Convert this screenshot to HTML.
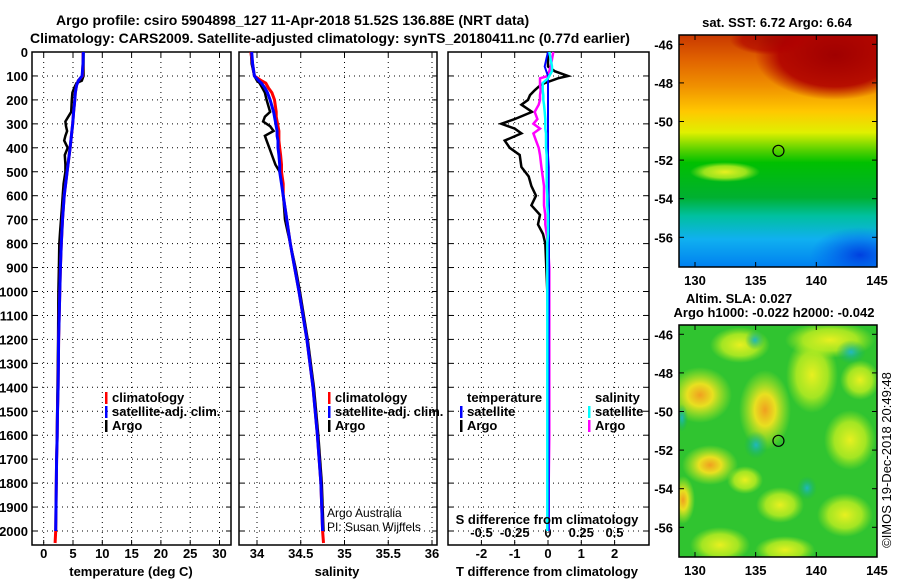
<!DOCTYPE html>
<html><head><meta charset="utf-8"><style>
body{margin:0;background:#fff;}
svg{display:block;font-family:"Liberation Sans",sans-serif;}
.b{font-weight:bold;font-size:13px;}
.t{font-weight:bold;font-size:14px;}
</style></head><body>
<svg id="c" width="900" height="580" viewBox="0 0 900 580">
<defs>
<linearGradient id="sst" x1="0" y1="0" x2="0" y2="1">
<stop offset="0" stop-color="#c83800"/><stop offset="0.1" stop-color="#e06000"/><stop offset="0.22" stop-color="#f09000"/>
<stop offset="0.33" stop-color="#ffc800"/><stop offset="0.42" stop-color="#e0f000"/><stop offset="0.5" stop-color="#50d000"/>
<stop offset="0.55" stop-color="#00c000"/><stop offset="0.7" stop-color="#00b030"/><stop offset="0.78" stop-color="#00c0a0"/>
<stop offset="0.88" stop-color="#10b0f0"/><stop offset="1" stop-color="#0080f0"/></linearGradient>
<radialGradient id="red1" cx="0.5" cy="0.5" r="0.5"><stop offset="0" stop-color="#a00000"/><stop offset="0.7" stop-color="#b00000" stop-opacity="0.9"/><stop offset="1" stop-color="#b00000" stop-opacity="0"/></radialGradient>
<radialGradient id="blu1" cx="0.5" cy="0.5" r="0.5"><stop offset="0" stop-color="#0040e0"/><stop offset="1" stop-color="#0060f0" stop-opacity="0"/></radialGradient>
<radialGradient id="yel" cx="0.5" cy="0.5" r="0.5"><stop offset="0" stop-color="#f0a020"/><stop offset="0.4" stop-color="#e8e020"/><stop offset="1" stop-color="#c8f020" stop-opacity="0"/></radialGradient>
<radialGradient id="yel2" cx="0.5" cy="0.5" r="0.5"><stop offset="0" stop-color="#e8f020"/><stop offset="0.6" stop-color="#c0ee20" stop-opacity="0.8"/><stop offset="1" stop-color="#a0e820" stop-opacity="0"/></radialGradient>
<radialGradient id="cy" cx="0.5" cy="0.5" r="0.5"><stop offset="0" stop-color="#20b8c0"/><stop offset="1" stop-color="#10b060" stop-opacity="0"/></radialGradient>
<clipPath id="m1c"><rect x="679" y="35" width="198" height="232"/></clipPath>
<clipPath id="m2c"><rect x="679" y="325" width="198" height="232"/></clipPath>
</defs>
<g id="titles">
<text class="t" x="56" y="25">Argo profile: csiro 5904898_127 11-Apr-2018 51.52S 136.88E (NRT data)</text>
<text class="t" x="30" y="43">Climatology: CARS2009. Satellite-adjusted climatology: synTS_20180411.nc (0.77d earlier)</text>
</g>
<g id="p1"></g>
<g id="p2"></g>
<g id="p3"></g>
<g id="maps"></g>
</svg>
<script>
// ---- data ----
const tDepth = [0,50,100,120,140,170,200,250,300,400,500,600,700,800,900,1000,1100,1200,1300,1400,1500,1600,1700,1800,1900,2000];
const tClim  = [6.7,6.7,6.6,5.9,5.6,5.4,5.3,5.1,4.95,4.5,4.0,3.5,3.2,3.0,2.85,2.75,2.65,2.55,2.5,2.45,2.35,2.3,2.2,2.15,2.1,2.05];
const tSat   = [6.75,6.7,6.55,5.9,5.6,5.4,5.3,5.1,4.95,4.5,4.0,3.5,3.2,3.0,2.85,2.75,2.65,2.55,2.5,2.45,2.35,2.3,2.2,2.15,2.1,2.05];
const aDepth = [0,50,100,120,130,150,170,200,250,270,290,310,330,350,370,400,430,470,500,550,600,650,700,750,800,900,1000,1200,1400,1600,1800,2000];
const tArgo  = [6.8,6.8,6.8,6.5,5.6,5.2,4.9,4.8,4.7,4.2,3.7,3.8,4.0,3.7,3.5,4.1,3.6,3.7,3.7,3.4,3.25,3.1,2.96,2.8,2.67,2.6,2.5,2.45,2.35,2.25,2.15,2.05];
const sClim  = [33.93,33.95,33.97,34.05,34.1,34.13,34.17,34.2,34.22,34.22,34.23,34.24,34.25,34.25,34.25,34.26,34.27,34.28,34.28,34.3,34.3,34.32,34.34,34.36,34.38,34.43,34.48,34.57,34.64,34.69,34.73,34.75];
const sSat   = [33.94,33.95,33.97,34.02,34.05,34.09,34.12,34.15,34.19,34.2,34.21,34.22,34.23,34.23,34.24,34.24,34.25,34.26,34.26,34.28,34.3,34.32,34.34,34.36,34.38,34.43,34.48,34.57,34.64,34.69,34.73,34.75];
const sArgo  = [33.93,33.94,33.97,34.0,34.03,34.06,34.09,34.11,34.15,34.09,34.07,34.15,34.19,34.09,34.11,34.14,34.17,34.21,34.26,34.3,34.3,34.31,34.32,34.35,34.38,34.44,34.49,34.58,34.65,34.7,34.74,34.76];
const dDepth = [0,30,60,80,100,110,130,140,160,180,200,220,250,280,300,320,340,370,400,430,480,520,560,600,640,680,720,760,800,900,1000,1200,1400,1600,1800,2000];
const dTArgo = [0,0,0,0.2,0.6,0.3,-0.1,-0.24,-0.4,-0.54,-0.6,-0.8,-0.48,-1.0,-1.4,-1.0,-0.8,-1.3,-1.15,-0.85,-0.8,-0.58,-0.5,-0.36,-0.5,-0.24,-0.3,-0.15,-0.08,-0.05,-0.02,0,0,0,0,0];
const dTSat  = [0,-0.05,-0.1,-0.05,0,0,0,0,0,0,0,0,0,0,0,0,0,0,0,0,0.02,0.02,0.02,0.02,0.03,0.03,0.03,0.03,0.03,0.03,0.03,0.02,0.02,0.02,0.02,0.02];
const dSArgo = [0.04,0.03,0.02,0.01,0.0,-0.06,-0.06,-0.06,-0.055,-0.06,-0.06,-0.07,-0.1,-0.08,-0.11,-0.06,-0.11,-0.09,-0.07,-0.06,-0.05,-0.04,-0.03,-0.03,-0.03,-0.02,-0.02,-0.01,0,0.01,0.01,0.01,0.01,0.01,0.005,0.005];
const dSSat  = [0.01,0.02,0.03,0.03,0.01,0.0,-0.04,-0.04,-0.04,-0.035,-0.035,-0.03,-0.025,-0.02,-0.02,-0.02,-0.015,-0.015,-0.015,-0.01,-0.01,-0.01,-0.01,-0.005,-0.005,0,0,0,-0.005,-0.005,-0.005,-0.005,-0.005,-0.005,-0.005,-0.005];
const depthTicks = [0,100,200,300,400,500,600,700,800,900,1000,1100,1200,1300,1400,1500,1600,1700,1800,1900,2000];
const tTicks = [0,5,10,15,20,25,30];
const sTicks = [34,34.5,35,35.5,36];
const dtTicks = [-2,-1,0,1,2];
const dsTicks = [-0.5,-0.25,0,0.25,0.5];
const dsLabels = ["-0.5","-0.25","0","0.25","0.5"];
const latTicks = [-46,-48,-50,-52,-54,-56];
const lonTicks = [130,135,140,145];
const floatLon = 136.88, floatLat = -51.52;

// ---- helpers ----
const NS="http://www.w3.org/2000/svg";
function mk(parent,tag,attrs,txt){const e=document.createElementNS(NS,tag);for(const k in attrs)e.setAttribute(k,attrs[k]);if(txt!==undefined)e.textContent=txt;parent.appendChild(e);return e;}
const Y = d => 52 + d*0.2395;
const TOP=52, BOT=545;
const xT = t => 43.7 + t*5.86;
const xS = s => 257 + (s-34)*87.5;
const xDT = v => 548 + v*33.3;
const xDS = v => 548 + v*133;
const lonX = l => 695 + (l-130)*12.13;
const latY1 = l => 44.3 + (-46-l)*19.3;
const latY2 = l => 334.3 + (-46-l)*19.3;

function frame(g,x0,x1,xticks,xf,labels){
  for(const d of depthTicks){
    if(d>0) mk(g,'line',{x1:x0,x2:x1,y1:Y(d),y2:Y(d),stroke:'#000','stroke-dasharray':'1 4','stroke-width':1});
    mk(g,'line',{x1:x0,x2:x0+5,y1:Y(d),y2:Y(d),stroke:'#000'});
    mk(g,'line',{x1:x1-5,x2:x1,y1:Y(d),y2:Y(d),stroke:'#000'});
  }
  xticks.forEach((v,i)=>{
    const x=xf(v);
    mk(g,'line',{x1:x,x2:x,y1:TOP,y2:BOT,stroke:'#000','stroke-dasharray':'1 4','stroke-width':1});
    mk(g,'line',{x1:x,x2:x,y1:BOT-5,y2:BOT,stroke:'#000'});
    mk(g,'line',{x1:x,x2:x,y1:TOP,y2:TOP+5,stroke:'#000'});
    if(labels){const tl=mk(g,'text',{x:x,y:558,'text-anchor':'middle',class:'b'},labels[i]);
    
    }
  });
  mk(g,'rect',{x:x0,y:TOP,width:x1-x0,height:BOT-TOP,fill:'none',stroke:'#000','stroke-width':1.5});
}
function line(g,xs,ds,xf,color,w,name){
  const pts=xs.map((v,i)=>xf(v).toFixed(1)+','+Y(ds[i]).toFixed(1)).join(' ');
  const p=mk(g,'polyline',{points:pts,fill:'none',stroke:color,'stroke-width':w,'stroke-linejoin':'miter'});
  
  
}
function legend(g,x,y,items){
  items.forEach((it,i)=>{
    mk(g,'rect',{x:x,y:y+i*14-10,width:2.5,height:12,fill:it[0]});
    const t=mk(g,'text',{x:x+7,y:y+i*14,class:'b'},it[1]);
    
    
  });
}

// ---- panel 1 ----
const p1=document.getElementById('p1');
frame(p1,32,231,tTicks,xT,tTicks.map(String));
for(const d of depthTicks){const t=mk(p1,'text',{x:28,y:Y(d)+5,'text-anchor':'end',class:'b'},String(d));

}
line(p1,tArgo,aDepth,xT,'#000',2.5,'argo-temperature-line');
line(p1,tClim.concat([1.95]),tDepth.concat([2050]),xT,'#f00',3,'climatology-temperature-line');
line(p1,tSat,tDepth,xT,'#00f',3,'satellite-temperature-line');
legend(p1,105,402,[['#f00','climatology'],['#00f','satellite-adj. clim.'],['#000','Argo']]);
mk(p1,'text',{x:131,y:576,'text-anchor':'middle',class:'b'},'temperature (deg C)');

// ---- panel 2 ----
const p2=document.getElementById('p2');
frame(p2,239,437,sTicks,xS,sTicks.map(String));
line(p2,sArgo,aDepth,xS,'#000',2.5,'argo-salinity-line');
line(p2,sClim.concat([34.76]),aDepth.concat([2050]),xS,'#f00',3,'climatology-salinity-line');
line(p2,sSat,aDepth,xS,'#00f',3,'satellite-salinity-line');
legend(p2,328,402,[['#f00','climatology'],['#00f','satellite-adj. clim.'],['#000','Argo']]);
mk(p2,'text',{x:327,y:517,'font-size':'12px'},'Argo Australia');
mk(p2,'text',{x:327,y:531,'font-size':'12px'},'PI: Susan Wijffels');
mk(p2,'text',{x:337,y:576,'text-anchor':'middle',class:'b'},'salinity');

// ---- panel 3 ----
const p3=document.getElementById('p3');
frame(p3,448,649,dtTicks,xDT,dtTicks.map(String));
dsTicks.forEach((v,i)=>{mk(p3,'text',{x:xDS(v),y:537,'text-anchor':'middle',class:'b'},dsLabels[i]);});
line(p3,dTArgo,dDepth,xDT,'#000',2.5,'argo-temperature-difference-line');
line(p3,dSArgo,dDepth,xDS,'#f0f',2.5,'argo-salinity-difference-line');
line(p3,dTSat,dDepth,xDT,'#00f',2,'satellite-temperature-difference-line');
line(p3,dSSat,dDepth,xDS,'#0ff',2.5,'satellite-salinity-difference-line');
mk(p3,'text',{x:467,y:402,class:'b'},'temperature');
legend(p3,460,416,[['#00f','satellite'],['#000','Argo']]);
mk(p3,'text',{x:595,y:402,class:'b'},'salinity');
legend(p3,588,416,[['#0ff','satellite'],['#f0f','Argo']]);
mk(p3,'text',{x:547,y:524,'text-anchor':'middle',class:'b'},'S difference from climatology');
mk(p3,'text',{x:547,y:576,'text-anchor':'middle',class:'b'},'T difference from climatology');

// ---- maps ----
const maps=document.getElementById('maps');
function mapFrame(g,y0,latY){
  mk(g,'rect',{x:679,y:y0,width:198,height:232,fill:'none',stroke:'#000','stroke-width':1.5});
  latTicks.forEach(l=>{const y=latY(l);
    mk(g,'line',{x1:679,x2:684,y1:y,y2:y,stroke:'#000'});mk(g,'line',{x1:872,x2:877,y1:y,y2:y,stroke:'#000'});
    const t=mk(g,'text',{x:673,y:y+5,'text-anchor':'end',class:'b'},String(l));
    
    });
  lonTicks.forEach(l=>{const x=lonX(l);
    mk(g,'line',{x1:x,x2:x,y1:y0,y2:y0+5,stroke:'#000'});mk(g,'line',{x1:x,x2:x,y1:y0+232-5,y2:y0+232,stroke:'#000'});
    const t=mk(g,'text',{x:x,y:y0+250,'text-anchor':'middle',class:'b'},String(l));
    
    });
  const c=mk(g,'circle',{cx:lonX(floatLon),cy:latY(floatLat),r:5.5,fill:'none',stroke:'#000','stroke-width':1.2});
  
  
}
const m1=mk(maps,'g',{'clip-path':'url(#m1c)'});


mk(m1,'rect',{x:679,y:35,width:198,height:232,fill:'url(#sst)'});
mk(m1,'ellipse',{cx:835,cy:55,rx:80,ry:45,fill:'url(#red1)'});
mk(m1,'ellipse',{cx:770,cy:40,rx:40,ry:15,fill:'url(#red1)',opacity:0.7});
mk(m1,'ellipse',{cx:860,cy:255,rx:50,ry:28,fill:'url(#blu1)'});
mk(m1,'ellipse',{cx:725,cy:172,rx:35,ry:10,fill:'url(#yel2)'});
mapFrame(maps,35,latY1);
mk(maps,'text',{x:777,y:27,'text-anchor':'middle',class:'b'},'sat. SST: 6.72 Argo: 6.64');
const m2=mk(maps,'g',{'clip-path':'url(#m2c)'});


mk(m2,'rect',{x:679,y:325,width:198,height:232,fill:'#30c430'});
[[700,395,32,28,'yel'],[765,410,26,40,'yel'],[812,375,26,38,'yel2'],[710,465,28,20,'yel'],[780,505,24,18,'yel2'],[850,440,26,30,'yel2'],[830,340,45,18,'yel2'],[740,345,30,18,'yel2'],[720,545,30,18,'yel2'],[785,550,30,14,'yel2'],[845,515,28,22,'yel2'],[683,500,12,24,'yel'],[860,380,20,20,'yel2'],[745,480,18,14,'yel2']].forEach(b=>{
  mk(m2,'ellipse',{cx:b[0],cy:b[1],rx:b[2],ry:b[3],fill:'url(#'+b[4]+')'});});
[[756,445,12,14],[851,352,15,12],[807,488,10,12],[755,340,10,10],[682,418,6,14]].forEach(b=>{
  mk(m2,'ellipse',{cx:b[0],cy:b[1],rx:b[2],ry:b[3],fill:'url(#cy)'});});
mapFrame(maps,325,latY2);
mk(maps,'text',{x:739,y:303,'text-anchor':'middle',class:'b'},'Altim. SLA: 0.027');
mk(maps,'text',{x:774,y:317,'text-anchor':'middle',class:'b'},'Argo h1000: -0.022 h2000: -0.042');
mk(maps,'text',{x:0,y:0,'text-anchor':'middle','font-size':'13px',transform:'translate(891,460) rotate(-90)'},'©IMOS 19-Dec-2018 20:49:48');
</script>
</body></html>
